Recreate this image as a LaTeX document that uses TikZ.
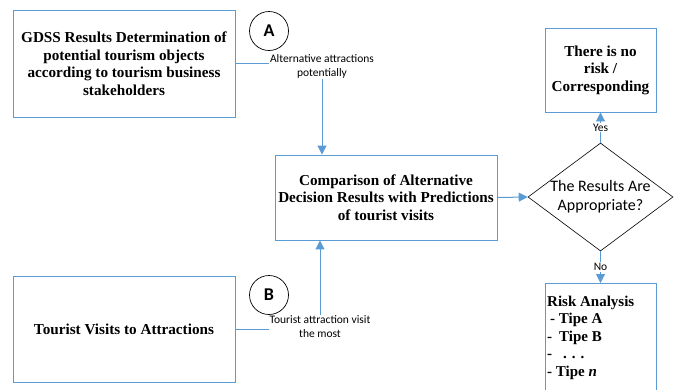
\documentclass[tikz,border=0pt]{standalone}
\usepackage{fontspec}
\setmainfont{Liberation Serif}
\newfontfamily\calib{Carlito}
\usetikzlibrary{arrows.meta,shapes.geometric}
\definecolor{lineblue}{RGB}{91,155,213}
\begin{document}
\begin{tikzpicture}[x=1pt,y=-1pt,
  box/.style={draw=lineblue,line width=0.9pt,align=center,inner sep=2pt,font=\bfseries\fontsize{15.2}{17.5}\selectfont},
  conn/.style={draw=lineblue,line width=1pt},
  arr/.style={conn,-{Triangle[length=9pt,width=9pt]}},
  lbl/.style={fill=white,inner sep=1pt,align=center,font=\calib\fontsize{11.5}{13.5}\selectfont},
  badge/.style={circle,draw=black,line width=0.7pt,minimum size=39pt,inner sep=0pt,fill=white,font=\calib\bfseries\fontsize{18}{18}\selectfont},
]
\useasboundingbox (0,0) rectangle (678,389);
\clip (0,0) rectangle (678,389);
\node[box,minimum width=222pt,minimum height=107pt] (gdss) at (124,63.5) {GDSS Results Determination of\\potential tourism objects\\according to tourism business\\stakeholders};
\node[box,minimum width=222pt,minimum height=85pt] (comp) at (386,197.5) {Comparison of Alternative\\Decision Results with Predictions\\of tourist visits};
\node[box,minimum width=222pt,minimum height=106pt] (visit) at (124,329) {Tourist Visits to Attractions};
\node[box,minimum width=111pt,minimum height=84pt] (norisk) at (600.5,70) {There is no\\risk /\\Corresponding};
\node[box,minimum width=111pt,minimum height=116pt,anchor=north] (risk) at (600.5,283) {};
\node[anchor=north west,align=left,inner sep=0pt,font=\bfseries\fontsize{15}{17.5}\selectfont] (risktext) at (547,295.5) {Risk Analysis\\\hspace{3pt}- Tipe A\\-\hspace{7pt}Tipe B\\-\hspace{11pt}. . .\\- Tipe \textit{n}};
\node[diamond,draw=black,line width=0.6pt,minimum width=145pt,minimum height=108pt,inner sep=0pt] (dia) at (600.5,197) {};
\node[font=\calib\fontsize{16}{19}\selectfont,align=center,inner sep=0pt] (diatext) at (dia.center) {The Results Are\\Appropriate?};
\node[badge] (A) at (269,31) {A};
\node[badge] (B) at (269,295) {B};
\coordinate (ja) at (322,64);
\coordinate (jb) at (320,329);
\draw[arr] (gdss.east) -- (gdss.east -| ja) -- (ja |- comp.north);
\node[lbl] (la) at (322,66.5) {Alternative attractions\\potentially};
\draw[arr] (visit.east) -- (jb) -- (jb |- comp.south);
\node[lbl] (lb) at (320,326.5) {Tourist attraction visit\\the most};
\draw[arr] (comp.east) -- (dia.west);
\draw[arr] (dia.north) -- node[lbl] (yes) {Yes} (norisk.south);
\draw[arr] (dia.south) -- node[lbl] (no) {No} (risk.north);
\end{tikzpicture}
\end{document}
